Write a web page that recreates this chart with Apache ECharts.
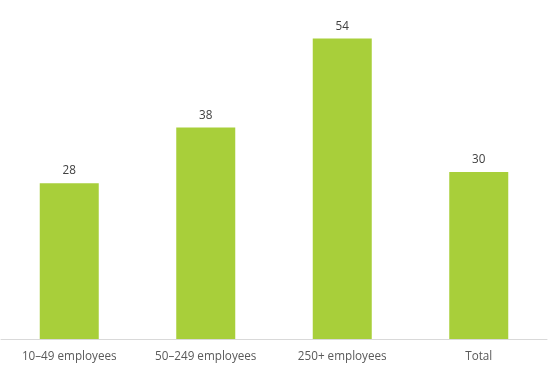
<!DOCTYPE html>
<html><head><meta charset="utf-8">
<script src="https://cdn.jsdelivr.net/npm/echarts@6/dist/echarts.min.js"></script>
<style>html,body{margin:0;padding:0;background:#fff}#c{width:549px;height:373px}</style>
</head><body><div id="c"></div>
<script>
const categories = ["10\u201349 employees", "50\u2013249 employees", "250+ employees", "Total"];
const values = [28, 38, 54, 30];
const chart = echarts.init(document.getElementById('c'), null, {renderer: 'canvas'});
chart.setOption({
  animation: false,
  grid: {left: 1, right: 2, top: 5, bottom: 34, containLabel: false},
  xAxis: {
    type: 'category', data: categories,
    axisLine: {show: true, lineStyle: {color: '#d9d9d9', width: 1}},
    axisTick: {show: false},
    axisLabel: {color: '#595959', fontFamily: 'Open Sans', fontSize: 11.7, margin: 12, interval: 0}
  },
  yAxis: {type: 'value', min: 0, max: 60, show: false, splitLine: {show: false}},
  series: [{
    type: 'bar', data: values, barWidth: 59,
    itemStyle: {color: '#a8cf3a'},
    label: {show: true, position: 'top', distance: 6, color: '#404040', fontFamily: 'Open Sans', fontSize: 11.7}
  }]
});
</script></body></html>
